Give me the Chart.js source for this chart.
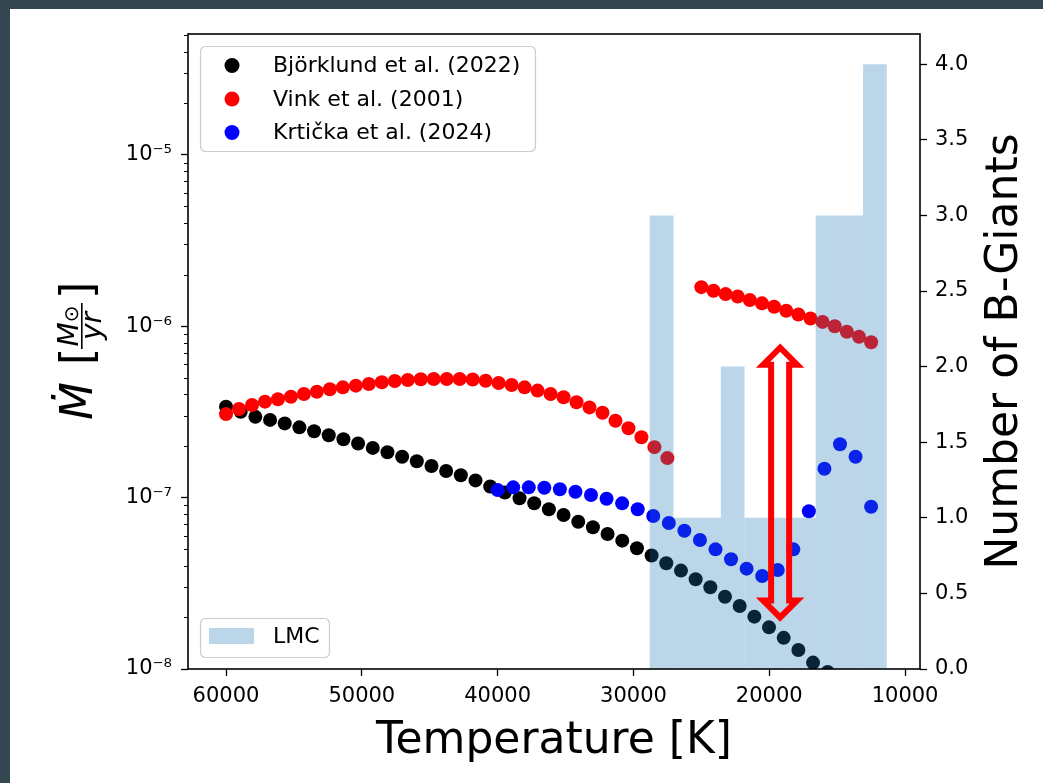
<!DOCTYPE html>
<html>
<head>
<meta charset="utf-8">
<script src="https://cdn.jsdelivr.net/npm/chart.js@4.4.1/dist/chart.umd.min.js"></script>
<style>
html,body{margin:0;padding:0;background:#34464f;overflow:hidden;}
#c{display:block;}
</style>
</head>
<body>
<canvas id="c" width="1043" height="783"></canvas>
<script>
// ---------------- data ----------------
const bjorklundT = [60000, 58919, 57839, 56758, 55678, 54597, 53516, 52436, 51355, 50275,
  49194, 48113, 47033, 45952, 44872, 43791, 42710, 41630, 40549, 39469,
  38388, 37307, 36227, 35146, 34066, 32985, 31904, 30824, 29743, 28663,
  27582, 26501, 25421, 24340, 23260, 22179, 21098, 20018, 18937, 17857,
  16776, 15695];
const bjorklundMdot = [3.39e-7, 3.17e-7, 2.96e-7, 2.84e-7, 2.71e-7, 2.57e-7, 2.44e-7, 2.31e-7, 2.19e-7, 2.07e-7,
  1.95e-7, 1.84e-7, 1.73e-7, 1.63e-7, 1.53e-7, 1.43e-7, 1.35e-7, 1.26e-7, 1.16e-7, 1.07e-7,
  9.91e-8, 9.27e-8, 8.55e-8, 7.91e-8, 7.23e-8, 6.71e-8, 6.13e-8, 5.61e-8, 5.06e-8, 4.59e-8,
  4.14e-8, 3.75e-8, 3.34e-8, 3.00e-8, 2.64e-8, 2.33e-8, 2.02e-8, 1.75e-8, 1.52e-8, 1.29e-8,
  1.09e-8, 9.6e-9];

const vinkT = [60000, 59044, 58088, 57132, 56176, 55221, 54265, 53309, 52353, 51397,
  50441, 49485, 48529, 47574, 46618, 45662, 44706, 43750, 42794, 41838,
  40882, 39926, 38971, 38015, 37059, 36103, 35147, 34191, 33235, 32279,
  31324, 30368, 29412, 28456, 27500,
  25000, 24107, 23214, 22321, 21429, 20536, 19643, 18750, 17857, 16964,
  16071, 15179, 14286, 13393, 12500];
const vinkMdot = [3.07e-7, 3.29e-7, 3.47e-7, 3.63e-7, 3.75e-7, 3.88e-7, 4.02e-7, 4.15e-7, 4.29e-7, 4.40e-7,
  4.50e-7, 4.60e-7, 4.71e-7, 4.79e-7, 4.86e-7, 4.90e-7, 4.92e-7, 4.92e-7, 4.92e-7, 4.89e-7,
  4.81e-7, 4.66e-7, 4.54e-7, 4.40e-7, 4.21e-7, 4.02e-7, 3.85e-7, 3.60e-7, 3.36e-7, 3.13e-7,
  2.81e-7, 2.54e-7, 2.25e-7, 1.97e-7, 1.70e-7,
  1.69e-6, 1.61e-6, 1.54e-6, 1.49e-6, 1.42e-6, 1.36e-6, 1.30e-6, 1.23e-6, 1.17e-6, 1.11e-6,
  1.06e-6, 1.00e-6, 9.29e-7, 8.68e-7, 8.06e-7];

const krtickaT = [40000, 38854, 37708, 36563, 35417, 34271, 33125, 31979, 30833, 29688,
  28542, 27396, 26250, 25104, 23958, 22813, 21667, 20521, 19375, 18229,
  17083, 15938, 14792, 13646, 12500];
const krtickaMdot = [1.107e-7, 1.148e-7, 1.148e-7, 1.142e-7, 1.118e-7, 1.083e-7, 1.036e-7, 9.84e-8, 9.26e-8, 8.55e-8,
  7.81e-8, 7.11e-8, 6.41e-8, 5.66e-8, 4.99e-8, 4.37e-8, 3.85e-8, 3.49e-8, 3.78e-8, 4.99e-8,
  8.32e-8, 1.474e-7, 2.05e-7, 1.733e-7, 8.85e-8];

const lmcBinCenters = [27927, 26182, 24437, 22692, 20946, 19201, 17456, 15711, 13966, 12220];
const lmcCounts = [3, 1, 1, 2, 1, 1, 1, 3, 3, 4];

const xTickValues = [60000, 50000, 40000, 30000, 20000, 10000];
const yTickValues = [1e-8, 1e-7, 1e-6, 1e-5];
const yTickLabels = ['10\u207B\u2078', '10\u207B\u2077', '10\u207B\u2076', '10\u207B\u2075'];
const y2TickValues = [0, 0.5, 1.0, 1.5, 2.0, 2.5, 3.0, 3.5, 4.0];

const seriesLabels = ['Björklund et al. (2022)', 'Vink et al. (2001)', 'Krtička et al. (2024)'];
const histLabel = 'LMC';
const xTitle = 'Temperature [K]';
const y2Title = 'Number of B-Giants';

// annotation arrow (temperature, lower and upper mass-loss rate)
const arrowT = 19200;
const arrowLow = 2.0e-8;
const arrowHigh = 7.5e-7;

// ---------------- styling ----------------
const FONT = '"DejaVu Sans"';
const BAR_COLOR = 'rgba(31,119,180,0.3)';
const toPts = (xs, ys) => xs.map((x, i) => ({x: x, y: ys[i]}));

const decor = {
  id: 'decor',
  beforeDraw(chart) {
    const ctx = chart.ctx;
    ctx.save();
    ctx.fillStyle = '#34464f';
    ctx.fillRect(0, 0, chart.width, chart.height);
    ctx.fillStyle = '#ffffff';
    ctx.fillRect(10, 9, chart.width - 10, chart.height - 9);
    ctx.restore();
  },
  afterDatasetsDraw(chart) {
    const ctx = chart.ctx;
    const xs = chart.scales.x, ys = chart.scales.y;
    const cx = xs.getPixelForValue(arrowT);
    const yTop = ys.getPixelForValue(arrowHigh);
    const yBot = ys.getPixelForValue(arrowLow);
    const hw = 17, hl = 17, sw = 9;
    ctx.save();
    ctx.beginPath();
    ctx.moveTo(cx, yTop);
    ctx.lineTo(cx + hw, yTop + hl);
    ctx.lineTo(cx + sw, yTop + hl);
    ctx.lineTo(cx + sw, yBot - hl);
    ctx.lineTo(cx + hw, yBot - hl);
    ctx.lineTo(cx, yBot);
    ctx.lineTo(cx - hw, yBot - hl);
    ctx.lineTo(cx - sw, yBot - hl);
    ctx.lineTo(cx - sw, yTop + hl);
    ctx.lineTo(cx - hw, yTop + hl);
    ctx.closePath();
    ctx.lineWidth = 6;
    ctx.lineJoin = 'miter';
    ctx.strokeStyle = '#ff0000';
    ctx.stroke();
    ctx.restore();
  },
  afterDraw(chart) {
    const ctx = chart.ctx;
    const a = chart.chartArea;
    const ys = chart.scales.y;
    ctx.save();
    // frame
    ctx.strokeStyle = '#000';
    ctx.lineWidth = 1.6;
    ctx.strokeRect(a.left, a.top, a.right - a.left, a.bottom - a.top);
    // minor log ticks
    ctx.lineWidth = 1;
    for (let d = -8; d <= -5; d++) {
      for (let m = 2; m <= 9; m++) {
        const v = m * Math.pow(10, d);
        if (v > ys.max) break;
        const py = Math.round(ys.getPixelForValue(v)) + 0.5;
        ctx.beginPath();
        ctx.moveTo(a.left - 4, py);
        ctx.lineTo(a.left, py);
        ctx.stroke();
      }
    }
    // legends
    const rr = (x, y, w, h, r) => {
      ctx.beginPath();
      ctx.moveTo(x + r, y);
      ctx.lineTo(x + w - r, y);
      ctx.arcTo(x + w, y, x + w, y + r, r);
      ctx.lineTo(x + w, y + h - r);
      ctx.arcTo(x + w, y + h, x + w - r, y + h, r);
      ctx.lineTo(x + r, y + h);
      ctx.arcTo(x, y + h, x, y + h - r, r);
      ctx.lineTo(x, y + r);
      ctx.arcTo(x, y, x + r, y, r);
      ctx.closePath();
    };
    ctx.fillStyle = 'rgba(255,255,255,0.8)';
    ctx.strokeStyle = '#cccccc';
    ctx.lineWidth = 1.2;
    rr(200.5, 46.5, 335, 105, 5);
    ctx.fill(); ctx.stroke();
    const rows = [65.5, 99, 132.5];
    ctx.font = '22px ' + FONT;
    ctx.textBaseline = 'middle';
    ctx.textAlign = 'left';
    for (let i = 0; i < 3; i++) {
      const ds = chart.data.datasets[i];
      ctx.fillStyle = ds.backgroundColor;
      ctx.beginPath();
      ctx.arc(232, rows[i], 7.5, 0, Math.PI * 2);
      ctx.fill();
      ctx.fillStyle = '#000';
      ctx.fillText(ds.label, 273, rows[i] + 1);
    }
    ctx.fillStyle = 'rgba(255,255,255,0.8)';
    ctx.strokeStyle = '#cccccc';
    rr(200.5, 618.5, 129, 39, 5);
    ctx.fill(); ctx.stroke();
    ctx.fillStyle = BAR_COLOR;
    ctx.fillRect(209, 628, 45, 16);
    ctx.fillStyle = '#000';
    ctx.fillText(chart.data.datasets[3].label, 273, 637);
    // x title
    ctx.font = '44px ' + FONT;
    ctx.textAlign = 'center';
    ctx.textBaseline = 'alphabetic';
    ctx.fillText(xTitle, (a.left + a.right) / 2, 753);
    // right title
    ctx.save();
    ctx.translate(1017, (a.top + a.bottom) / 2);
    ctx.rotate(-Math.PI / 2);
    ctx.fillText(y2Title, 0, 0);
    ctx.restore();
    // left title:  Mdot [ M_sun / yr ]
    ctx.save();
    ctx.translate(92, 420);
    ctx.rotate(-Math.PI / 2);
    ctx.textAlign = 'left';
    ctx.font = 'oblique 44px ' + FONT;
    ctx.fillText('\u1E40', 0, 0);
    ctx.font = '44px ' + FONT;
    ctx.fillText('[', 55, 0);
    const fc = 94;
    ctx.font = 'oblique 28px ' + FONT;
    const wM = ctx.measureText('M').width;
    ctx.font = '20px ' + FONT;
    const wS = ctx.measureText('\u2299').width;
    const x0 = fc - (wM + wS) / 2;
    ctx.font = 'oblique 28px ' + FONT;
    ctx.fillText('M', x0, -14);
    ctx.font = '20px ' + FONT;
    ctx.fillText('\u2299', x0 + wM, -14);
    ctx.font = 'oblique 28px ' + FONT;
    ctx.textAlign = 'center';
    ctx.fillText('yr', fc, 9);
    ctx.fillRect(71, -11, 46, 1.6);
    ctx.textAlign = 'left';
    ctx.font = '44px ' + FONT;
    ctx.fillText(']', 121, 0);
    ctx.restore();
    ctx.restore();
  }
};

const tickFont = {family: 'DejaVu Sans', size: 21};
const gridOpts = {display: true, offset: false, drawOnChartArea: false, drawTicks: true, tickLength: 7, tickColor: '#000', tickWidth: 1.3};

new Chart(document.getElementById('c'), {
  type: 'scatter',
  data: {
    datasets: [
      {label: seriesLabels[0], data: toPts(bjorklundT, bjorklundMdot), backgroundColor: '#000000', borderColor: '#000000',
       pointRadius: 7, borderWidth: 0, pointBorderWidth: 0, order: 4, yAxisID: 'y', xAxisID: 'x', clip: 0},
      {label: seriesLabels[1], data: toPts(vinkT, vinkMdot), backgroundColor: '#ff0000', borderColor: '#ff0000',
       pointRadius: 7, borderWidth: 0, pointBorderWidth: 0, order: 3, yAxisID: 'y', xAxisID: 'x', clip: 0},
      {label: seriesLabels[2], data: toPts(krtickaT, krtickaMdot), backgroundColor: '#0000ff', borderColor: '#0000ff',
       pointRadius: 7, borderWidth: 0, pointBorderWidth: 0, order: 2, yAxisID: 'y', xAxisID: 'x', clip: 0},
      {type: 'bar', label: histLabel, data: toPts(lmcBinCenters, lmcCounts), backgroundColor: BAR_COLOR,
       borderWidth: 0, barPercentage: 1, categoryPercentage: 1, inflateAmount: 0, grouped: false,
       order: 1, yAxisID: 'y2', xAxisID: 'x'}
    ]
  },
  options: {
    responsive: false, animation: false, devicePixelRatio: 1, events: [],
    layout: {padding: {top: 34, left: 0, right: 0, bottom: 0}},
    plugins: {legend: {display: false}, tooltip: {enabled: false}},
    scales: {
      x: {
        type: 'linear', position: 'bottom', reverse: true, min: 8900, max: 62800, offset: false,
        afterBuildTicks: s => { s.ticks = xTickValues.map(v => ({value: v})); },
        afterFit: s => { s.height = 114; },
        ticks: {callback: v => String(v), font: tickFont, color: '#000', padding: 8, maxRotation: 0, autoSkip: false},
        grid: gridOpts, border: {display: false}
      },
      y: {
        type: 'logarithmic', position: 'left', min: 1e-8, max: 5.07e-5, offset: false,
        afterBuildTicks: s => { s.ticks = yTickValues.map(v => ({value: v})); },
        afterFit: s => { s.width = 188; },
        ticks: {callback: (v, i) => yTickLabels[i], font: tickFont, color: '#000', padding: 9, autoSkip: false},
        grid: gridOpts, border: {display: false}
      },
      y2: {
        type: 'linear', position: 'right', min: 0, max: 4.2, offset: false,
        afterBuildTicks: s => { s.ticks = y2TickValues.map(v => ({value: v})); },
        afterFit: s => { s.width = 123; },
        ticks: {callback: v => v.toFixed(1), font: tickFont, color: '#000', padding: 8, autoSkip: false},
        grid: gridOpts, border: {display: false}
      }
    }
  },
  plugins: [decor]
});
</script>
</body>
</html>
